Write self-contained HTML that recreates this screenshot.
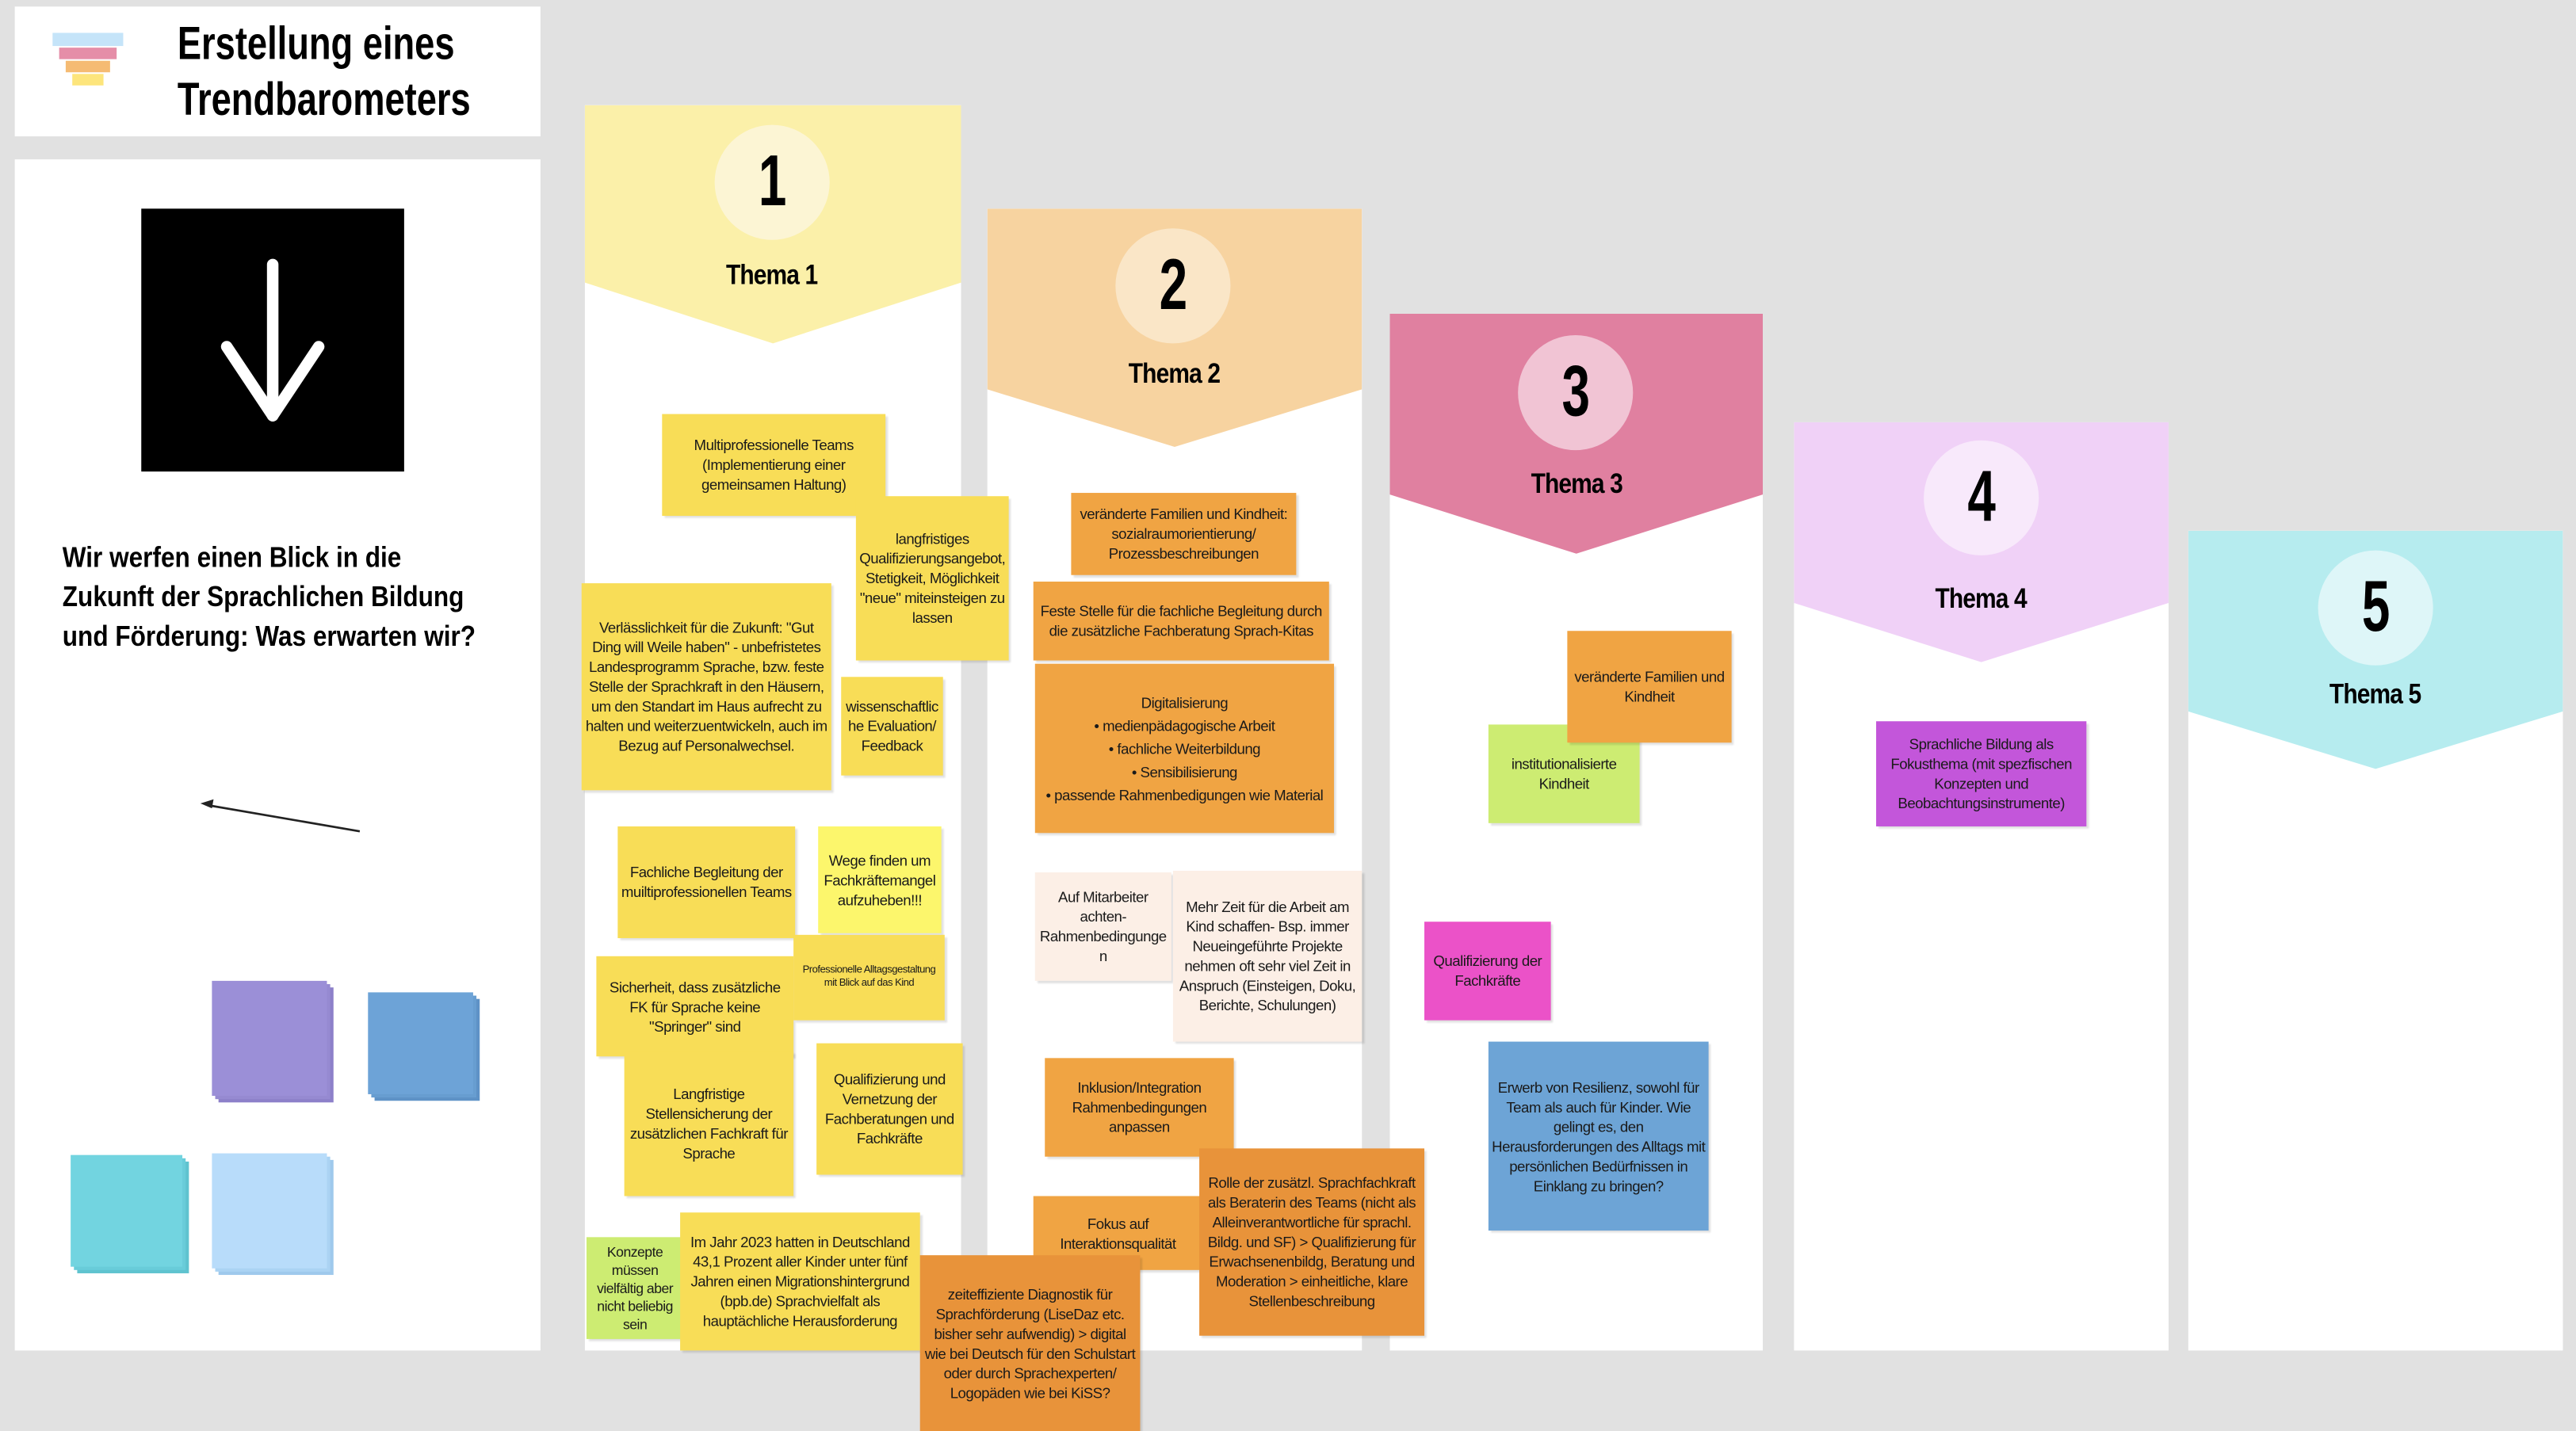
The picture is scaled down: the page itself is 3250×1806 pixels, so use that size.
<!DOCTYPE html>
<html><head><meta charset="utf-8"><style>
html,body{margin:0;padding:0;width:3250px;height:1806px;overflow:hidden;background:#e1e1e1}
#w{position:absolute;left:0;top:0;width:1568px;height:871px;transform:scale(2.0727,2.0735);transform-origin:0 0;font-family:"Liberation Sans",sans-serif}
.a{position:absolute}
.card{position:absolute;background:#fff}
.s{position:absolute;display:flex;align-items:center;justify-content:center;text-align:center;font-size:9px;line-height:12px;letter-spacing:-0.25px;color:#1a1a1a;box-shadow:1.5px 1.5px 1px rgba(0,0,0,0.12);box-sizing:border-box;padding:1px 2px;overflow:hidden;overflow-wrap:anywhere}
.y{background:#f8dd57}.ly{background:#fcf66c}.o{background:#f0a443}.do{background:#e8933a}.pe{background:#fcefe6}.g{background:#cdec72}
.h{font-family:"Liberation Sans","DejaVu Sans",sans-serif;font-weight:bold;color:#000}
.num{position:absolute;border-radius:50%;display:flex;align-items:center;justify-content:center;font-size:44px;font-weight:bold;font-family:"Liberation Sans",sans-serif}
.num span{display:inline-block;transform:scaleX(.7)}
.th{position:absolute;width:228px;text-align:center;font-size:17px;font-weight:bold;font-family:"Liberation Sans",sans-serif;letter-spacing:-0.5px}
.th span{display:inline-block;transform:scaleX(.85)}
.stack{position:absolute}
</style></head><body><div id="w">
<div class="card" style="left:9px;top:4px;width:320px;height:79px"></div>
<div class="a" style="left:32px;top:20px;width:43px;height:8px;background:#c5e4f9"></div>
<div class="a" style="left:36px;top:29px;width:35px;height:7px;background:#e58ea8"></div>
<div class="a" style="left:40px;top:37px;width:27px;height:7px;background:#f5bb73"></div>
<div class="a" style="left:44px;top:45px;width:19px;height:7px;background:#fde57c"></div>
<div class="a h" style="left:108px;top:10px;font-size:28px;line-height:34px;transform:scaleX(.78);transform-origin:0 0;white-space:nowrap">Erstellung eines<br>Trendbarometers</div>

<div class="card" style="left:9px;top:97px;width:320px;height:725px"></div>
<div class="a" style="left:86px;top:127px;width:160px;height:160px;background:#000"></div>
<svg class="a" style="left:86px;top:127px" width="160" height="160"><g stroke="#fff" stroke-width="7" stroke-linecap="round" fill="none"><line x1="80" y1="34" x2="80" y2="126"/><line x1="52" y1="84" x2="80" y2="126"/><line x1="108" y1="84" x2="80" y2="126"/></g></svg>
<div class="a h" style="left:38px;top:327px;font-size:17.5px;line-height:24px;transform:scaleX(.87);transform-origin:0 0;white-space:nowrap">Wir werfen einen Blick in die<br>Zukunft der Sprachlichen Bildung<br>und Förderung: Was erwarten wir?</div>
<svg class="a" style="left:110px;top:480px" width="120" height="35"><line x1="109" y1="26" x2="16" y2="10" stroke="#222" stroke-width="1.3"/><polygon points="12,9 20,6.5 19,12" fill="#222"/></svg>

<div class="stack" style="left:129px;top:597px"><div class="a" style="left:4px;top:4px;width:70px;height:70px;background:#8d80c9"></div><div class="a" style="left:2px;top:2px;width:70px;height:70px;background:#968ad1"></div><div class="a" style="left:0;top:0;width:70px;height:70px;background:#9b8fd7"></div></div>
<div class="stack" style="left:224px;top:604px"><div class="a" style="left:4px;top:4px;width:64px;height:62px;background:#5e92c6"></div><div class="a" style="left:2px;top:2px;width:64px;height:62px;background:#679dd0"></div><div class="a" style="left:0;top:0;width:64px;height:62px;background:#6da3d7"></div></div>
<div class="stack" style="left:43px;top:703px"><div class="a" style="left:4px;top:4px;width:68px;height:68px;background:#5fc3cf"></div><div class="a" style="left:2px;top:2px;width:68px;height:68px;background:#69ccd9"></div><div class="a" style="left:0;top:0;width:68px;height:68px;background:#72d4e0"></div></div>
<div class="stack" style="left:129px;top:702px"><div class="a" style="left:4px;top:4px;width:70px;height:70px;background:#9fc9ec"></div><div class="a" style="left:2px;top:2px;width:70px;height:70px;background:#abd3f3"></div><div class="a" style="left:0;top:0;width:70px;height:70px;background:#b8dcfa"></div></div>

<div class="card" style="left:356px;top:64px;width:229px;height:758px"></div>
<svg class="a" style="left:356px;top:64px" width="229" height="146"><polygon points="0,0 229,0 229,108 114.5,145 0,108" fill="#fbf0a9"/></svg>
<div class="num" style="left:435px;top:76px;width:70px;height:70px;background:#fcf5d4"><span>1</span></div>
<div class="th" style="left:356px;top:158px"><span>Thema 1</span></div>

<div class="card" style="left:601px;top:127px;width:228px;height:695px"></div>
<svg class="a" style="left:601px;top:127px" width="228" height="146"><polygon points="0,0 228,0 228,110 114,145 0,110" fill="#f7d3a0"/></svg>
<div class="num" style="left:679px;top:139px;width:70px;height:70px;background:#fae6c7"><span>2</span></div>
<div class="th" style="left:601px;top:218px"><span>Thema 2</span></div>

<div class="card" style="left:846px;top:191px;width:227px;height:631px"></div>
<svg class="a" style="left:846px;top:191px" width="227" height="147"><polygon points="0,0 227,0 227,110 113.5,146 0,110" fill="#e080a0"/></svg>
<div class="num" style="left:924px;top:204px;width:70px;height:70px;background:#f1c4d4"><span>3</span></div>
<div class="th" style="left:846px;top:285px"><span>Thema 3</span></div>

<div class="card" style="left:1092px;top:257px;width:228px;height:565px"></div>
<svg class="a" style="left:1092px;top:257px" width="228" height="147"><polygon points="0,0 228,0 228,110 114,146 0,110" fill="#f0d1f7"/></svg>
<div class="num" style="left:1171px;top:268px;width:70px;height:70px;background:#f8e9fb"><span>4</span></div>
<div class="th" style="left:1092px;top:355px"><span>Thema 4</span></div>

<div class="card" style="left:1332px;top:323px;width:228px;height:499px"></div>
<svg class="a" style="left:1332px;top:323px" width="228" height="146"><polygon points="0,0 228,0 228,110 114,145 0,110" fill="#b6ecef"/></svg>
<div class="num" style="left:1411px;top:335px;width:70px;height:70px;background:#def6f8"><span>5</span></div>
<div class="th" style="left:1332px;top:413px"><span>Thema 5</span></div>

<div class="s y" style="left:403px;top:252px;width:136px;height:62px">Multiprofessionelle Teams (Implementierung einer gemeinsamen Haltung)</div>
<div class="s y" style="left:521px;top:302px;width:93px;height:100px">langfristiges Qualifizierungsangebot, Stetigkeit, Möglichkeit "neue" miteinsteigen zu lassen</div>
<div class="s y" style="left:354px;top:355px;width:152px;height:126px">Verlässlichkeit für die Zukunft: "Gut Ding will Weile haben" - unbefristetes Landesprogramm Sprache, bzw. feste Stelle der Sprachkraft in den Häusern, um den Standart im Haus aufrecht zu halten und weiterzuentwickeln, auch im Bezug auf Personalwechsel.</div>
<div class="s y" style="left:512px;top:412px;width:62px;height:60px">wissenschaftliche Evaluation/ Feedback</div>
<div class="s y" style="left:376px;top:503px;width:108px;height:68px">Fachliche Begleitung der muiltiprofessionellen Teams</div>
<div class="s ly" style="left:498px;top:503px;width:75px;height:65px">Wege finden um Fachkräftemangel aufzuheben!!!</div>
<div class="s y" style="left:363px;top:582px;width:120px;height:61px">Sicherheit, dass zusätzliche FK für Sprache keine "Springer" sind</div>
<div class="s y" style="left:483px;top:569px;width:92px;height:52px;font-size:6.3px;line-height:8.5px">Professionelle Alltagsgestaltung mit Blick auf das Kind</div>
<div class="s y" style="left:380px;top:640px;width:103px;height:88px">Langfristige Stellensicherung der zusätzlichen Fachkraft für Sprache</div>
<div class="s y" style="left:497px;top:635px;width:89px;height:80px">Qualifizierung und Vernetzung der Fachberatungen und Fachkräfte</div>
<div class="s g" style="left:357px;top:753px;width:59px;height:62px;font-size:8.5px;line-height:11px">Konzepte müssen vielfältig aber nicht beliebig sein</div>
<div class="s y" style="left:414px;top:738px;width:146px;height:84px">Im Jahr 2023 hatten in Deutschland 43,1 Prozent aller Kinder unter fünf Jahren einen Migrationshintergrund (bpb.de) Sprachvielfalt als hauptächliche Herausforderung</div>

<div class="s o" style="left:652px;top:300px;width:137px;height:50px">veränderte Familien und Kindheit: sozialraumorientierung/ Prozessbeschreibungen</div>
<div class="s o" style="left:629px;top:354px;width:180px;height:48px">Feste Stelle für die fachliche Begleitung durch die zusätzliche Fachberatung Sprach-Kitas</div>
<div class="s o" style="left:630px;top:404px;width:182px;height:103px;line-height:14px">Digitalisierung<br>• medienpädagogische Arbeit<br>• fachliche Weiterbildung<br>• Sensibilisierung<br>• passende Rahmenbedigungen wie Material</div>
<div class="s pe" style="left:630px;top:531px;width:83px;height:66px">Auf Mitarbeiter achten-Rahmenbedingungen</div>
<div class="s pe" style="left:714px;top:530px;width:115px;height:104px">Mehr Zeit für die Arbeit am Kind schaffen- Bsp. immer Neueingeführte Projekte nehmen oft sehr viel Zeit in Anspruch (Einsteigen, Doku, Berichte, Schulungen)</div>
<div class="s o" style="left:636px;top:644px;width:115px;height:60px">Inklusion/Integration Rahmenbedingungen anpassen</div>
<div class="s o" style="left:629px;top:728px;width:103px;height:45px">Fokus auf Interaktionsqualität</div>
<div class="s do" style="left:560px;top:764px;width:134px;height:107px">zeiteffiziente Diagnostik für Sprachförderung (LiseDaz etc. bisher sehr aufwendig) &gt; digital wie bei Deutsch für den Schulstart oder durch Sprachexperten/ Logopäden wie bei KiSS?</div>
<div class="s do" style="left:730px;top:699px;width:137px;height:114px">Rolle der zusätzl. Sprachfachkraft als Beraterin des Teams (nicht als Alleinverantwortliche für sprachl. Bildg. und SF) &gt; Qualifizierung für Erwachsenenbildg, Beratung und Moderation &gt; einheitliche, klare Stellenbeschreibung</div>

<div class="s g" style="left:906px;top:441px;width:92px;height:60px">institutionalisierte Kindheit</div>
<div class="s o" style="left:954px;top:384px;width:100px;height:68px">veränderte Familien und Kindheit</div>
<div class="s" style="left:867px;top:561px;width:77px;height:60px;background:#eb52c8">Qualifizierung der Fachkräfte</div>
<div class="s" style="left:906px;top:634px;width:134px;height:115px;background:#6da4d6">Erwerb von Resilienz, sowohl für Team als auch für Kinder. Wie gelingt es, den Herausforderungen des Alltags mit persönlichen Bedürfnissen in Einklang zu bringen?</div>

<div class="s" style="left:1142px;top:439px;width:128px;height:64px;background:#c356da">Sprachliche Bildung als Fokusthema (mit spezfischen Konzepten und Beobachtungsinstrumente)</div>
</div></body></html>
